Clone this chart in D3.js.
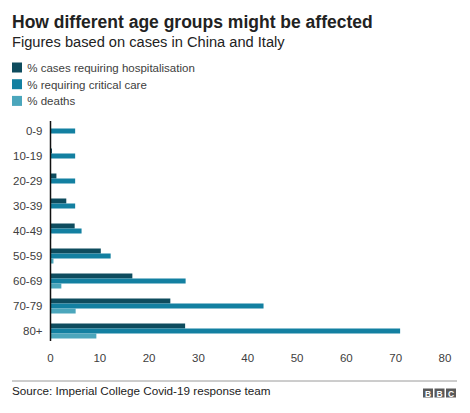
<!DOCTYPE html>
<html>
<head>
<meta charset="utf-8">
<script src="https://cdn.jsdelivr.net/npm/d3@7"></script>
<style>
  body { margin: 0; background: #fff; }
  text { font-family: "Liberation Sans", Arial, sans-serif; }
</style>
</head>
<body>
<div id="chart"></div>
<script>
// data - Imperial College report figures (%)
const ageGroups = ['0-9', '10-19', '20-29', '30-39', '40-49', '50-59', '60-69', '70-79', '80+']
const seriesNames = ['% cases requiring hospitalisation', '% requiring critical care', '% deaths']
const hospitalised = [0.1, 0.3, 1.2, 3.2, 4.9, 10.2, 16.6, 24.3, 27.3]
const criticalCare = [5.0, 5.0, 5.0, 5.0, 6.3, 12.2, 27.4, 43.2, 70.9]
const deaths = [0.002, 0.006, 0.03, 0.08, 0.15, 0.6, 2.2, 5.1, 9.3]
const xTicks = [0, 10, 20, 30, 40, 50, 60, 70, 80]

const colors = ['#0e4c5e', '#1380a1', '#4ba6bc']
const seriesValues = [hospitalised, criticalCare, deaths]

const width = 470, height = 413
const labelSize = '11.5px'

const svg = d3.select('#chart')
    .append('svg')
    .attr('width', width)
    .attr('height', height)

// title + subtitle
svg.append('text')
    .attr('x', 12).attr('y', 28)
    .style('font-size', '17.5px')
    .style('font-weight', 'bold')
    .style('fill', '#222')
    .text('How different age groups might be affected')

svg.append('text')
    .attr('x', 12).attr('y', 47)
    .style('font-size', '14.65px')
    .style('fill', '#222')
    .text('Figures based on cases in China and Italy')

// legend
const legend = svg.append('g')
    .selectAll('g')
    .data(seriesNames)
    .enter()
    .append('g')
    .attr('transform', (d, i) => `translate(12, ${62.5 + i * 16.7})`)

legend.append('rect')
    .attr('width', 10).attr('height', 10)
    .style('fill', (d, i) => colors[i])

legend.append('text')
    .attr('x', 15.3).attr('y', 9.3)
    .style('font-size', labelSize)
    .style('fill', '#404040')
    .text(d => d)

// scales
const x = d3.scaleLinear()
    .domain([0, 80])
    .range([50.5, 445])

const y = d3.scaleBand()
    .domain(ageGroups)
    .range([118.5, 343.5])
    .paddingInner(0.4)
    .paddingOuter(0.2)

const ySub = d3.scaleBand()
    .domain(d3.range(seriesNames.length))
    .range([0, y.bandwidth()])

// bars
const rows = svg.append('g')
    .selectAll('g')
    .data(ageGroups)
    .enter()
    .append('g')
    .attr('transform', d => `translate(0, ${y(d)})`)

rows.selectAll('rect')
    .data((d, i) => seriesValues.map((s, k) => ({ k: k, v: s[i] })))
    .enter()
    .append('rect')
    .attr('x', x(0))
    .attr('y', d => ySub(d.k))
    .attr('width', d => x(d.v) - x(0))
    .attr('height', ySub.bandwidth())
    .style('fill', d => colors[d.k])

// category labels
svg.append('g')
    .selectAll('text')
    .data(ageGroups)
    .enter()
    .append('text')
    .attr('x', 42.5)
    .attr('y', d => y(d) + y.bandwidth() / 2)
    .attr('dy', '0.35em')
    .attr('text-anchor', 'end')
    .style('font-size', labelSize)
    .style('fill', '#404040')
    .text(d => d)

// vertical baseline
svg.append('line')
    .attr('x1', x(0)).attr('x2', x(0))
    .attr('y1', y.range()[0] + 2.5)
    .attr('y2', y.range()[1] - 2.5)
    .style('stroke', '#111')
    .style('stroke-width', 1.5)

// x tick labels
svg.append('g')
    .selectAll('text')
    .data(xTicks)
    .enter()
    .append('text')
    .attr('x', d => x(d))
    .attr('y', 358)
    .attr('dy', '0.35em')
    .attr('text-anchor', 'middle')
    .style('font-size', labelSize)
    .style('fill', '#404040')
    .text(d => d)

// footer
svg.append('line')
    .attr('x1', 12).attr('x2', 457)
    .attr('y1', 381).attr('y2', 381)
    .style('stroke', '#9a9a9a')
    .style('stroke-width', 1)

svg.append('text')
    .attr('x', 12).attr('y', 394.5)
    .style('font-size', '11.7px')
    .style('fill', '#222')
    .text('Source: Imperial College Covid-19 response team')

const logo = svg.append('g')
    .selectAll('g')
    .data(['B', 'B', 'C'])
    .enter()
    .append('g')
    .attr('transform', (d, i) => `translate(${423 + i * 11.5}, 388.5)`)

logo.append('rect')
    .attr('width', 10).attr('height', 9)
    .style('fill', '#5a5a5a')

logo.append('text')
    .attr('x', 5).attr('y', 8)
    .attr('text-anchor', 'middle')
    .style('font-size', '8.5px')
    .style('font-weight', 'bold')
    .style('fill', '#fff')
    .text(d => d)
</script>
</body>
</html>
